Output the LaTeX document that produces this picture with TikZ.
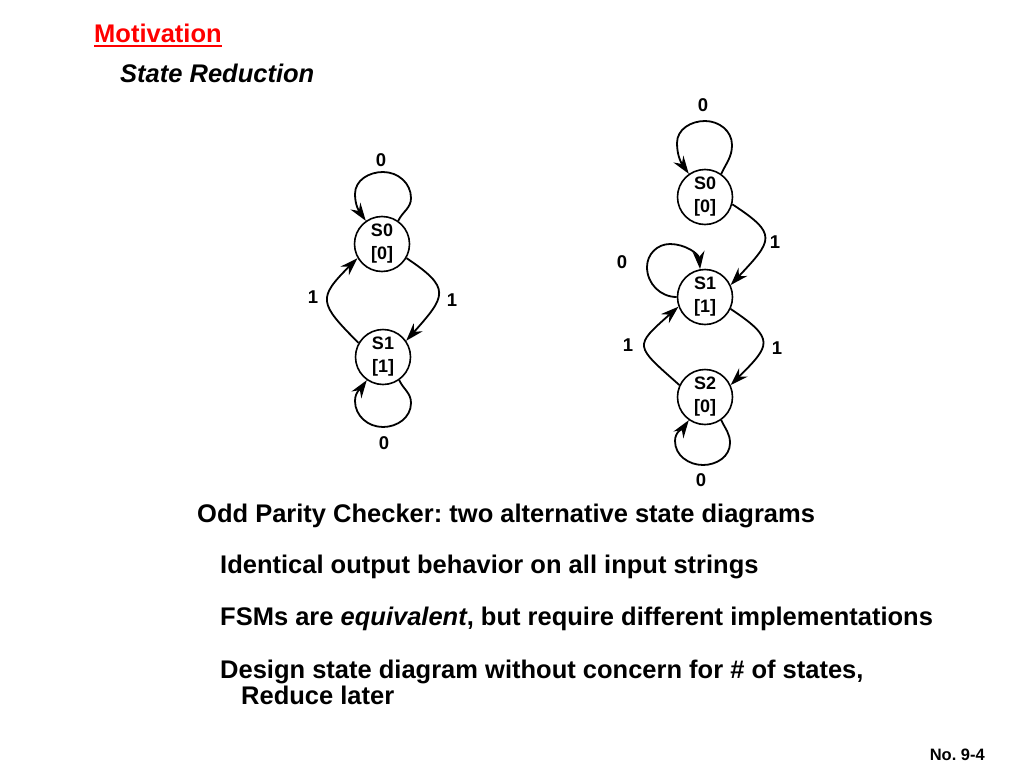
\documentclass[tikz,border=0pt]{standalone}
\usepackage{fontspec}
\setmainfont{Liberation Sans}
\usetikzlibrary{arrows.meta}
\frenchspacing
\begin{document}
\begin{tikzpicture}[x=1pt,y=1pt,
  state/.style={circle, draw, line width=1.6pt, minimum size=55pt, inner sep=-14pt, align=center, font=\fontsize{18}{23}\selectfont\bfseries},
  lab/.style={font=\fontsize{18.5}{22}\selectfont\bfseries, inner sep=0pt},
  arr/.style={line width=1.8pt, -{Stealth[length=18pt,width=12pt,inset=6pt]}},
  body/.style={anchor=base west, inner sep=0pt, font=\fontsize{25.5}{30}\selectfont\bfseries}]
\useasboundingbox (0,0) rectangle (1024,-768);

% titles
\node[anchor=base west, inner sep=0pt, text=red, font=\fontsize{25.5}{30}\selectfont\bfseries] (mot) at (94,-42) {Motivation};
\draw[red, line width=1.6pt] ([yshift=-4pt]mot.base west) -- ([yshift=-4pt]mot.base east);
\node[anchor=base west, inner sep=0pt, font=\fontsize{25.5}{30}\selectfont\bfseries\itshape] (sub) at (120,-82) {State Reduction};

% left diagram
\node[state] (l0) at (382,-244) {S0\\{[0]}};
\node[state] (l1) at (383,-357) {S1\\{[1]}};
\node[lab] (l0a) at (381,-160) {0};
\node[lab] (l1a) at (313,-297) {1};
\node[lab] (l0b) at (452,-300) {1};
\node[lab] (l1b) at (384,-443) {0};
\draw[arr] (l0.55) to[out=65,in=-90] ([shift={(29,46)}]l0.center)
  to[out=90,in=0] ([shift={(1,72)}]l0.center)
  to[out=180,in=90] ([shift={(-27,50)}]l0.center)
  to[out=-90,in=125] (l0.125);
\draw[arr] (l1.-55) to[out=-65,in=90] ([shift={(28,-46)}]l1.center)
  to[out=-90,in=0] ([shift={(0,-70)}]l1.center)
  to[out=180,in=-90] ([shift={(-28,-44)}]l1.center)
  to[out=90,in=-125] (l1.-125);
\draw[arr] (l0.-30) .. controls +(45,-30) and +(40,45) .. (l1.35);
\draw[arr] (l1.150) .. controls +(-40,40) and +(-40,-40) .. (l0.-150);

% right diagram
\node[state] (r0) at (705,-197) {S0\\{[0]}};
\node[state] (r1) at (705,-297) {S1\\{[1]}};
\node[state] (r2) at (705,-397) {S2\\{[0]}};
\node[lab] (r0a) at (703,-105) {0};
\node[lab] (r0b) at (775,-242) {1};
\node[lab] (r1a) at (622,-262) {0};
\node[lab] (r2a) at (628,-345) {1};
\node[lab] (r1b) at (777,-348) {1};
\node[lab] (r2b) at (701,-480) {0};
\draw[arr] (r0.55) to[out=65,in=-90] ([shift={(27,52)}]r0.center)
  to[out=90,in=0] ([shift={(0,76)}]r0.center)
  to[out=180,in=90] ([shift={(-28,54)}]r0.center)
  to[out=-90,in=125] (r0.125);
\draw[arr] (r0.-15) .. controls +(46,-30) and +(42,45) .. (r1.25);
\draw[arr] (r1.180) to[out=180,in=-90] ([shift={(-58,30)}]r1.center)
  to[out=90,in=180] ([shift={(-35,53)}]r1.center)
  to[out=0,in=95] (r1.100);
\draw[arr] (r1.-25) .. controls +(45,-30) and +(40,40) .. (r2.25);
\draw[arr] (r2.155) .. controls +(-45,40) and +(-45,-40) .. (r1.-160);
\draw[arr] (r2.-55) to[out=-65,in=90] ([shift={(25,-46)}]r2.center)
  to[out=-90,in=0] ([shift={(-2,-68)}]r2.center)
  to[out=180,in=-90] ([shift={(-30,-44)}]r2.center)
  to[out=90,in=-125] (r2.-125);

% body text
\node[body] (t1) at (197,-522) {Odd Parity Checker: two alternative state diagrams};
\node[body] (t2) at (220,-573) {Identical output behavior on all input strings};
\node[body] (t3) at (220,-625) {FSMs are \textit{equivalent}, but require different implementations};
\node[body] (t4) at (220,-678) {Design state diagram without concern for \# of states,};
\node[body] (t5) at (241,-704) {Reduce later};

\node[anchor=base east, inner sep=0pt, font=\fontsize{16.5}{19}\selectfont\bfseries] (no) at (985,-760) {No. 9-4};
\end{tikzpicture}
\end{document}
